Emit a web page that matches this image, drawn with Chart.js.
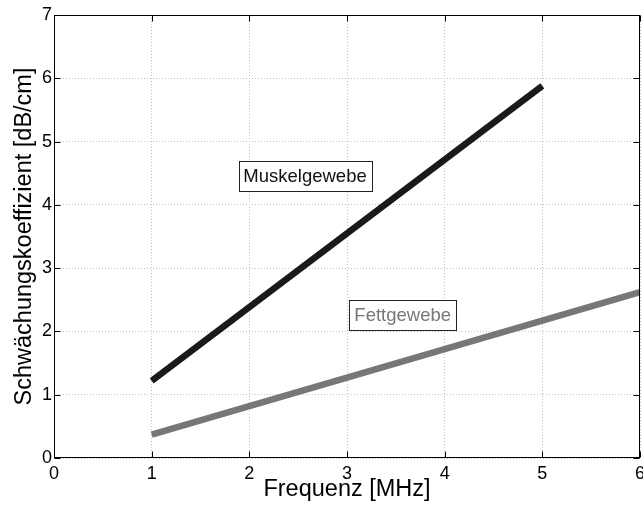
<!DOCTYPE html>
<html>
<head>
<meta charset="utf-8">
<script src="https://cdn.jsdelivr.net/npm/chart.js@4/dist/chart.umd.min.js"></script>
<style>
html, body { margin: 0; padding: 0; background: #fff; }
canvas { display: block; }
</style>
</head>
<body>
<canvas id="chart" width="643" height="506"></canvas>
<script>
// Werte
var muskelFreq = [1, 5];
var muskelWerte = [1.22, 5.88];
var fettFreq = [1, 6];
var fettWerte = [0.37, 2.62];

var xTicks = [0, 1, 2, 3, 4, 5, 6];
var yTicks = [0, 1, 2, 3, 4, 5, 6, 7];

// Beschriftungen im Diagramm (Mittelpunkt in Achsenwerten)
var beschriftungen = ['Muskelgewebe', 'Fettgewebe'];
var beschriftungX = [2.57, 3.57];
var beschriftungY = [4.45, 2.26];
var beschriftungFarben = ['#111', '#777'];

var FONT = '"Liberation Sans", Arial, Helvetica, sans-serif';

function punkte(xs, ys) {
    return xs.map(function (x, i) { return { x: x, y: ys[i] }; });
}

// Rahmen, Teilstriche innen und Textkästen wie in MATLAB
var rahmenPlugin = {
    id: 'rahmen',
    afterDatasetsDraw: function (chart) {
        var ctx = chart.ctx;
        var a = chart.chartArea;
        var sx = chart.scales.x, sy = chart.scales.y;
        var l = Math.round(a.left) + 0.5, r = Math.round(a.right) - 0.5;
        var t = Math.round(a.top) + 0.5, b = Math.round(a.bottom) - 0.5;
        var len = 6;

        ctx.save();
        ctx.strokeStyle = '#000';
        ctx.lineWidth = 1;
        ctx.beginPath();
        xTicks.forEach(function (v) {
            var px = Math.round(sx.getPixelForValue(v)) + 0.5;
            ctx.moveTo(px, b); ctx.lineTo(px, b - len);
            ctx.moveTo(px, t); ctx.lineTo(px, t + len);
        });
        yTicks.forEach(function (v) {
            var py = Math.round(sy.getPixelForValue(v)) + 0.5;
            ctx.moveTo(l, py); ctx.lineTo(l + len, py);
            ctx.moveTo(r, py); ctx.lineTo(r - len, py);
        });
        ctx.stroke();
        ctx.strokeRect(l, t, r - l, b - t);

        // Textkästen
        ctx.font = '18.5px ' + FONT;
        ctx.textAlign = 'center';
        ctx.textBaseline = 'middle';
        beschriftungen.forEach(function (txt, i) {
            var cx = sx.getPixelForValue(beschriftungX[i]);
            var cy = sy.getPixelForValue(beschriftungY[i]);
            var w = Math.round(ctx.measureText(txt).width) + 10;
            var h = 30;
            var bx = Math.round(cx - w / 2) + 0.5, by = Math.round(cy - h / 2) + 0.5;
            ctx.fillStyle = '#fff';
            ctx.fillRect(bx, by, w, h);
            ctx.strokeStyle = '#222';
            ctx.strokeRect(bx, by, w, h);
            ctx.fillStyle = beschriftungFarben[i];
            ctx.fillText(txt, cx, cy + 1);
        });
        ctx.restore();
    }
};

var ctx = document.getElementById('chart').getContext('2d');
var chart = new Chart(ctx, {
    type: 'line',
    data: {
        datasets: [{
            label: 'Muskelgewebe',
            data: punkte(muskelFreq, muskelWerte),
            borderColor: '#1a1a1a',
            borderWidth: 6.5,
            borderCapStyle: 'butt',
            pointRadius: 0,
            fill: false
        }, {
            label: 'Fettgewebe',
            data: punkte(fettFreq, fettWerte),
            borderColor: '#777777',
            borderWidth: 6.5,
            borderCapStyle: 'butt',
            pointRadius: 0,
            fill: false
        }]
    },
    options: {
        responsive: false,
        animation: false,
        devicePixelRatio: 1,
        layout: { padding: { top: 15, right: 3, left: 0, bottom: 0 } },
        plugins: {
            legend: { display: false },
            tooltip: { enabled: false }
        },
        scales: {
            x: {
                type: 'linear',
                min: 0,
                max: 6,
                afterBuildTicks: function (s) {
                    s.ticks = xTicks.map(function (v) { return { value: v }; });
                },
                ticks: {
                    color: '#000',
                    font: { family: FONT, size: 18 },
                    padding: 5,
                    maxRotation: 0
                },
                grid: { color: '#c2c2c2', lineWidth: 1, drawTicks: false },
                border: { display: false, dash: [1, 2] },
                title: {
                    display: true,
                    text: 'Frequenz [MHz]',
                    color: '#000',
                    font: { family: FONT, size: 23.5 },
                    padding: { top: 0, bottom: 2 }
                },
                afterFit: function (s) {
                    s.height = 48;
                    s.paddingLeft = 0;
                    s.paddingRight = 0;
                }
            },
            y: {
                type: 'linear',
                min: 0,
                max: 7,
                afterBuildTicks: function (s) {
                    s.ticks = yTicks.map(function (v) { return { value: v }; });
                },
                ticks: {
                    color: '#000',
                    font: { family: FONT, size: 18 },
                    padding: 2
                },
                grid: { color: '#c2c2c2', lineWidth: 1, drawTicks: false },
                border: { display: false, dash: [1, 2] },
                title: {
                    display: true,
                    text: 'Schwächungskoeffizient [dB/cm]',
                    color: '#000',
                    font: { family: FONT, size: 23.5 },
                    padding: { top: 10, bottom: 0 }
                },
                afterFit: function (s) {
                    s.width = 54;
                    s.paddingTop = 0;
                    s.paddingBottom = 0;
                }
            }
        }
    },
    plugins: [rahmenPlugin]
});
</script>
</body>
</html>
